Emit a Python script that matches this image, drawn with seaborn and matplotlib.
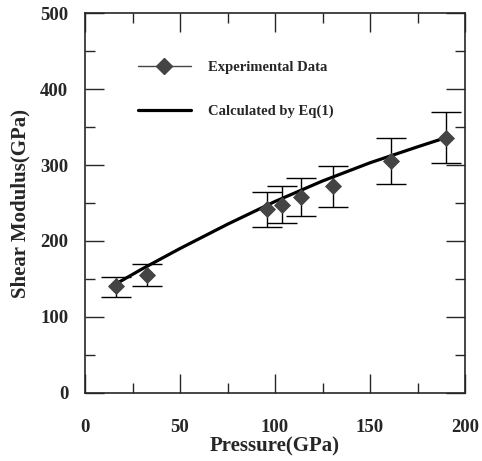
import numpy as np
import pandas as pd
import matplotlib
matplotlib.use("Agg")
import matplotlib.pyplot as plt
import seaborn as sns
from matplotlib.lines import Line2D
from matplotlib.ticker import MultipleLocator

# datos experimentales
pressure = [16.5, 32.5, 96, 103.5, 113.5, 130.5, 161, 190]
modulus = [140, 155, 242, 248, 258, 272, 305, 336]
err_low = [126, 140, 218, 223, 233, 245, 275, 303]
err_high = [153, 170, 265, 272, 283, 299, 336, 370]

# curva calculada (Eq 1)
calc_p = [16, 30, 50, 75, 100, 125, 150, 175, 191]
calc_g = [143, 163, 190, 222, 252, 279, 303, 324, 337]

exp_df = pd.DataFrame({"P": pressure, "G": modulus})
calc_df = pd.DataFrame({"P": calc_p, "G": calc_g})

sns.set_style("ticks")
plt.rcParams["font.family"] = ["Liberation Serif", "DejaVu Serif"]
plt.rcParams["font.weight"] = "bold"

fig = plt.figure(figsize=(4.82, 4.61), dpi=100)
ax = fig.add_axes([85 / 482, 1 - 392.7 / 461, 380 / 482, 379.4 / 461])

yerr = np.array([np.array(modulus) - np.array(err_low),
                 np.array(err_high) - np.array(modulus)])
ax.errorbar(pressure, modulus, yerr=yerr, fmt="none", ecolor="black",
            elinewidth=1, capsize=11, capthick=1, zorder=2)
sns.lineplot(data=calc_df, x="P", y="G", color="black", linewidth=2.3,
             ax=ax, zorder=3)
sns.scatterplot(data=exp_df, x="P", y="G", marker="D", s=65, color="#444444",
                edgecolor="#444444", ax=ax, zorder=4)

ax.set_xlim(0, 200)
ax.set_ylim(0, 500)
ax.xaxis.set_major_locator(MultipleLocator(50))
ax.xaxis.set_minor_locator(MultipleLocator(25))
ax.yaxis.set_major_locator(MultipleLocator(100))
ax.yaxis.set_minor_locator(MultipleLocator(50))
ax.tick_params(which="both", direction="in", top=True, right=True, width=1)
ax.tick_params(which="major", length=14, labelsize=13.5)
ax.tick_params(axis="x", which="major", pad=19)
ax.tick_params(axis="y", which="major", pad=12)
ax.tick_params(which="minor", length=7)
for s in ax.spines.values():
    s.set_linewidth(1.2)

ax.set_xlabel("Pressure(GPa)", fontsize=15, fontweight="bold", labelpad=0)
ax.set_ylabel("Shear Modulus(GPa)", fontsize=15, fontweight="bold", labelpad=7)

handles = [
    Line2D([], [], color="#444444", linewidth=1, marker="D", markersize=8,
           markerfacecolor="#444444", markeredgecolor="#444444"),
    Line2D([], [], color="black", linewidth=2.3),
]
ax.legend(handles, ["Experimental Data", "Calculated by Eq(1)"],
          loc="upper left", bbox_to_anchor=(0.105, 0.91), frameon=False,
          handlelength=3.6, labelspacing=2.1, handletextpad=1.2,
          prop={"size": 10.5, "weight": "bold"})

fig.savefig("out.png", dpi=100)
